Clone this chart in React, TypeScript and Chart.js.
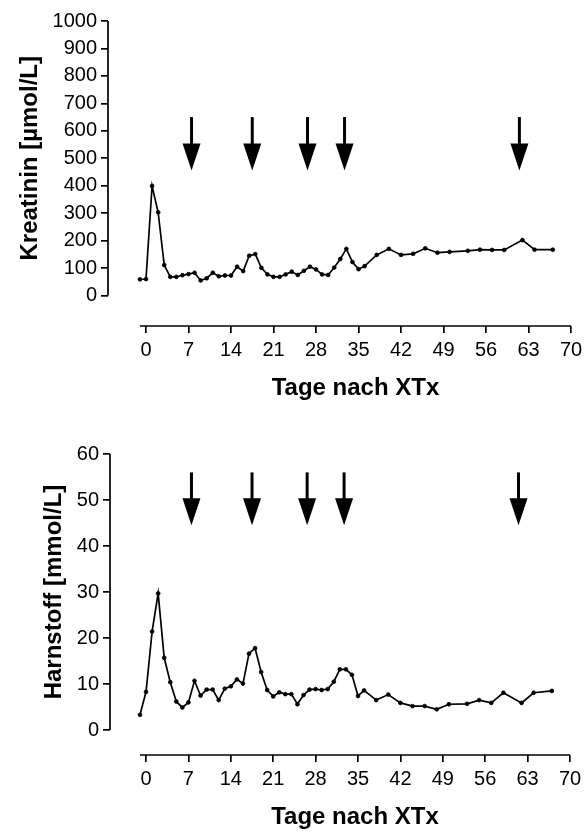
import React, { useEffect, useRef } from 'react';
import { Chart, registerables } from 'chart.js';
Chart.register(...registerables);

// ---------- data ----------
const days = [-1, 0, 1, 2, 3, 4, 5, 6, 7, 8, 9, 10, 11, 12, 13, 14, 15, 16, 17, 18, 19, 20, 21, 22, 23, 24, 25, 26, 27, 28, 29, 30, 31, 32, 33, 34, 35, 36, 38, 40, 42, 44, 46, 48, 50, 53, 55, 57, 59, 62, 64, 67];
const kreatinin = [59, 60, 399, 303, 111, 68, 68, 74, 78, 83, 55, 63, 83, 70, 73, 73, 105, 89, 145, 151, 101, 77, 68, 68, 77, 87, 75, 90, 105, 95, 77, 75, 102, 133, 170, 122, 96, 107, 148, 170, 148, 152, 172, 156, 159, 163, 167, 166, 166, 202, 167, 167];
const harnstoff = [3.3, 8.3, 21.4, 29.7, 15.7, 10.4, 6.2, 4.9, 6.0, 10.7, 7.5, 8.8, 8.8, 6.5, 9.0, 9.5, 11.0, 10.1, 16.6, 17.8, 12.6, 8.7, 7.3, 8.2, 7.8, 7.8, 5.6, 7.6, 8.8, 8.9, 8.7, 8.9, 10.5, 13.2, 13.2, 12.0, 7.4, 8.6, 6.5, 7.7, 5.9, 5.2, 5.2, 4.5, 5.6, 5.7, 6.5, 5.9, 8.1, 5.9, 8.1, 8.5];
const xTicks = [0, 7, 14, 21, 28, 35, 42, 49, 56, 63, 70];
const kreaTicks = [0, 100, 200, 300, 400, 500, 600, 700, 800, 900, 1000];
const harnTicks = [0, 10, 20, 30, 40, 50, 60];
const arrowDays = [7.5, 17.5, 26.6, 32.7, 61.5];
const kreaArrow = [650, 455]; // top of shaft, tip
const harnArrow = [56, 44.5];
const xTitle = 'Tage nach XTx';
const kreaTitle = 'Kreatinin [µmol/L]';
const harnTitle = 'Harnstoff [mmol/L]';

const FONT = "'Liberation Sans', Arial, sans-serif";
const TICK_SIZE = 20;

const decor = {
  id: 'decor',
  afterDraw(chart: any, _args: any, opts: any) {
    const { ctx, chartArea } = chart;
    const xs = chart.scales.x;
    const ys = chart.scales.y;
    ctx.save();
    ctx.strokeStyle = '#000';
    ctx.fillStyle = '#000';
    ctx.lineWidth = 1.7;
    // y axis line
    ctx.beginPath();
    ctx.moveTo(chartArea.left, ys.getPixelForValue(opts.yFrom));
    ctx.lineTo(chartArea.left, ys.getPixelForValue(opts.yTo));
    ctx.stroke();
    // x axis line
    ctx.beginPath();
    ctx.moveTo(xs.getPixelForValue(opts.xFrom), chartArea.bottom);
    ctx.lineTo(xs.getPixelForValue(opts.xTo), chartArea.bottom);
    ctx.stroke();
    // arrows
    for (const d of opts.arrowDays) {
      const x = xs.getPixelForValue(d);
      const yTop = ys.getPixelForValue(opts.arrow[0]);
      const yTip = ys.getPixelForValue(opts.arrow[1]);
      const head = 27;
      ctx.lineWidth = 3;
      ctx.beginPath();
      ctx.moveTo(x, yTop);
      ctx.lineTo(x, yTip - head + 2);
      ctx.stroke();
      ctx.beginPath();
      ctx.moveTo(x - 9, yTip - head);
      ctx.lineTo(x + 9, yTip - head);
      ctx.lineTo(x, yTip);
      ctx.closePath();
      ctx.fill();
    }
    // x title
    ctx.font = `bold 24px ${FONT}`;
    ctx.textAlign = 'center';
    ctx.textBaseline = 'middle';
    const xc = (xs.getPixelForValue(opts.xFrom) + xs.getPixelForValue(opts.xTo)) / 2;
    ctx.fillText(opts.xTitle, xc, chartArea.bottom + opts.xTitleOffset);
    // y title
    ctx.font = `${TICK_SIZE}px ${FONT}`;
    let maxW = 0;
    for (const t of ys.ticks) {
      maxW = Math.max(maxW, ctx.measureText(String(t.value)).width);
    }
    const yc = (ys.getPixelForValue(opts.yFrom) + ys.getPixelForValue(opts.yTo)) / 2;
    const tx = chartArea.left - 11 - maxW - 22;
    ctx.font = `bold 24px ${FONT}`;
    ctx.translate(tx, yc);
    ctx.rotate(-Math.PI / 2);
    ctx.fillText(opts.yTitle, 0, 0);
    ctx.restore();
  },
};

function makeChart(canvas: HTMLCanvasElement, cfg: any) {
  return new Chart(canvas, {
    type: 'line',
    data: {
      datasets: [
        {
          data: days.map((d, i) => ({ x: d, y: cfg.values[i] })),
          borderColor: '#000',
          backgroundColor: '#000',
          borderWidth: 1.7,
          pointRadius: 1.9,
          pointBorderWidth: 0.8,
          pointBackgroundColor: '#000',
          pointBorderColor: '#000',
          tension: 0,
        },
      ],
    },
    plugins: [decor],
    options: {
      responsive: false,
      animation: false,
      layout: { padding: cfg.padding },
      plugins: {
        legend: { display: false },
        tooltip: { enabled: false },
        decor: {
          yFrom: cfg.yTicks[0],
          yTo: cfg.yTicks[cfg.yTicks.length - 1],
          xFrom: days[0],
          xTo: xTicks[xTicks.length - 1],
          arrowDays,
          arrow: cfg.arrow,
          xTitle,
          yTitle: cfg.yTitle,
          xTitleOffset: 62,
        },
      } as any,
      scales: {
        x: {
          type: 'linear',
          min: cfg.xMin,
          max: xTicks[xTicks.length - 1],
          afterBuildTicks: (s: any) => {
            s.ticks = xTicks.map((v) => ({ value: v }));
          },
          afterFit: (s: any) => {
            s.height = cfg.xHeight;
            s.paddingLeft = 0;
            s.paddingRight = 0;
          },
          border: { display: false },
          grid: { drawOnChartArea: false, drawTicks: true, tickLength: 7, color: '#000', lineWidth: 1.7 },
          ticks: {
            autoSkip: false,
            maxRotation: 0,
            padding: 5,
            color: '#000',
            font: { family: FONT, size: TICK_SIZE },
            callback: (v: any) => String(v),
          },
        },
        y: {
          type: 'linear',
          min: cfg.yMin,
          max: cfg.yTicks[cfg.yTicks.length - 1],
          afterBuildTicks: (s: any) => {
            s.ticks = cfg.yTicks.map((v: number) => ({ value: v }));
          },
          afterFit: (s: any) => {
            s.width = cfg.yWidth;
            s.paddingTop = 0;
            s.paddingBottom = 0;
          },
          border: { display: false },
          grid: { drawOnChartArea: false, drawTicks: true, tickLength: 7, color: '#000', lineWidth: 1.7 },
          ticks: {
            padding: 4,
            color: '#000',
            font: { family: FONT, size: TICK_SIZE },
            callback: (v: any) => String(v),
          },
        },
      },
    } as any,
  });
}

export default function App() {
  const topRef = useRef<HTMLCanvasElement>(null);
  const botRef = useRef<HTMLCanvasElement>(null);
  useEffect(() => {
    const c1 = makeChart(topRef.current!, {
      values: kreatinin,
      yTicks: kreaTicks,
      yMin: -111,
      xMin: -6.26,
      arrow: kreaArrow,
      yTitle: kreaTitle,
      padding: { top: 21, right: 14, left: 0, bottom: 0 },
      yWidth: 108,
      xHeight: 92,
    });
    const c2 = makeChart(botRef.current!, {
      values: harnstoff,
      yTicks: harnTicks,
      yMin: -5.43,
      xMin: -5.95,
      arrow: harnArrow,
      yTitle: harnTitle,
      padding: { top: 36, right: 15, left: 0, bottom: 0 },
      yWidth: 110,
      xHeight: 82,
    });
    return () => {
      c1.destroy();
      c2.destroy();
    };
  }, []);
  return (
    <div style={{ position: 'absolute', left: 0, top: 0, width: 585, height: 837, background: '#fff' }}>
      <canvas ref={topRef} width={585} height={418} style={{ position: 'absolute', left: 0, top: 0 }} />
      <canvas ref={botRef} width={585} height={419} style={{ position: 'absolute', left: 0, top: 418 }} />
    </div>
  );
}
